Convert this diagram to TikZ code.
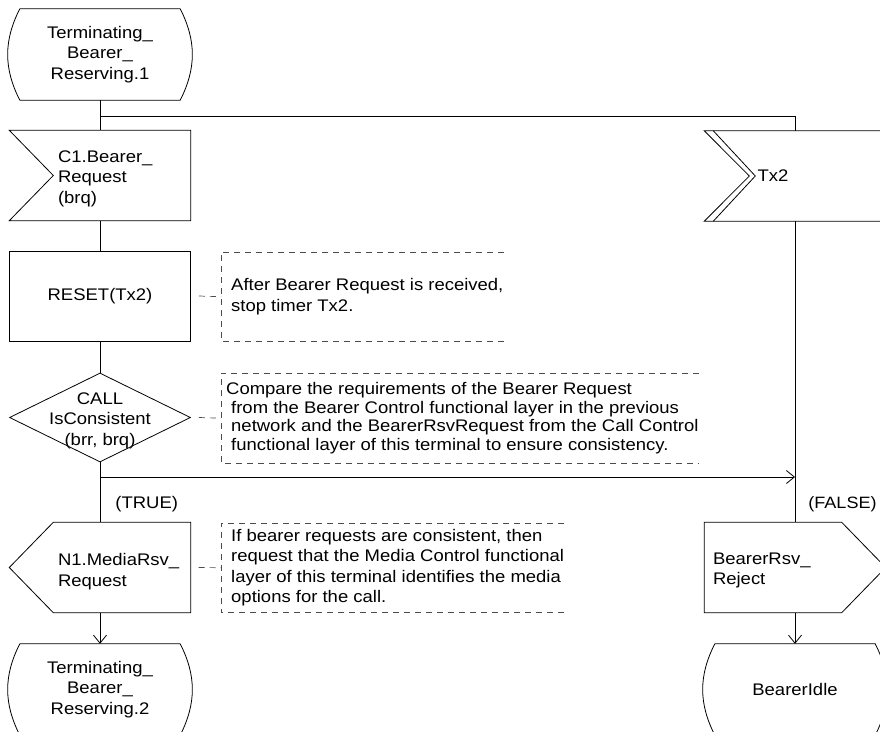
\documentclass[tikz,border=0pt]{standalone}
\usepackage{fontspec}
\setmainfont{Liberation Sans}[FakeStretch=1.1]
\usetikzlibrary{positioning, arrows.meta, shapes.geometric, calc}

\begin{document}
\begin{tikzpicture}[
	x=1pt, y=-1pt,
	every node/.style={font=\fontsize{16.8}{20.5}\selectfont},
	sdlstate/.style={rectangle, minimum width=184pt, minimum height=91pt, inner sep=0pt, align=center},
	sdlbox/.style={rectangle, minimum width=181pt, minimum height=90pt, inner sep=0pt, align=center},
	sdltask/.style={sdlbox, draw, line width=0.8pt},
	sdldecision/.style={diamond, draw, line width=0.8pt, minimum width=181pt, minimum height=89pt, inner sep=0pt},
	sdltext/.style={align=left, inner sep=0pt},
	note/.style={anchor=north west, align=left, inner sep=0pt, minimum height=89pt},
	notebracket/.style={draw=black!70, line width=0.7pt, dash pattern=on 6pt off 5pt},
	flow/.style={line width=0.8pt},
	flowarrow/.style={flow, -{Straight Barb[length=8pt, width=13pt]}},
	branchtext/.style={anchor=west, inner sep=0pt}
	]
	\useasboundingbox (0,0) rectangle (880,731);
	
	% --- LEFT COLUMN: Bearer Request path ---
	\node[sdlstate] (st1) at (100,54.5) {Terminating\_\\Bearer\_\\Reserving.1};
	\draw[flow] ([xshift=12pt]st1.north west) -- ([xshift=-12pt]st1.north east) to[bend left=27] ([xshift=-12pt]st1.south east) -- ([xshift=12pt]st1.south west) to[bend left=27] ([xshift=12pt]st1.north west);
	
	% Input C1.Bearer_Request
	\node[sdlbox, label={[sdltext, name=in1text, anchor=west, xshift=48.5pt, yshift=-3pt]west:{C1.Bearer\_\\Request\\(brq)}}] (in1) at (100,175.5) {};
	\draw[flow] (in1.north west) -- (in1.north east) -- (in1.south east) -- (in1.south west) -- ([xshift=44pt]in1.west) -- cycle;
	
	% Task and decision
	\node[sdltask] (reset) at (100,296) {RESET(Tx2)};
	\node[sdldecision, label={[name=dectext, align=center, yshift=-3pt]center:{CALL\\IsConsistent\\(brr, brq)}}] (dec) at (100,417.5) {};
	
	% Output N1.MediaRsv_Request
	\node[sdlbox, label={[sdltext, name=n1text, anchor=west, xshift=48.5pt, yshift=-4pt]west:{N1.MediaRsv\_\\Request}}] (n1) at (100,567.5) {};
	\draw[flow] (n1.west) -- ([xshift=44pt]n1.north west) -- (n1.north east) -- (n1.south east) -- ([xshift=44pt]n1.south west) -- cycle;
	
	\node[sdlstate] (st2) at (100,689.5) {Terminating\_\\Bearer\_\\Reserving.2};
	\draw[flow] ([xshift=12pt]st2.north west) -- ([xshift=-12pt]st2.north east) to[bend left=27] ([xshift=-12pt]st2.south east) -- ([xshift=12pt]st2.south west) to[bend left=27] ([xshift=12pt]st2.north west);
	
	% --- RIGHT COLUMN: timer expiry path ---
	\node[sdlbox, label={[sdltext, name=tx2text, anchor=west, xshift=53pt]west:{Tx2}}] (tx2) at (795,176) {};
	\draw[flow] (tx2.north west) -- (tx2.north east) -- (tx2.south east) -- (tx2.south west) -- ([xshift=45pt]tx2.west) -- cycle;
	\draw[flow] ([xshift=9pt]tx2.north west) -- ([xshift=51pt]tx2.west) -- ([xshift=9pt]tx2.south west);
	
	% Output BearerRsv_Reject
	\node[sdlbox, label={[sdltext, name=rejtext, anchor=west, xshift=8.5pt, yshift=-3pt]west:{BearerRsv\_\\Reject}}] (rej) at (795,567.5) {};
	\draw[flow] (rej.north west) -- ([xshift=-44pt]rej.north east) -- (rej.east) -- ([xshift=-44pt]rej.south east) -- (rej.south west) -- cycle;
	
	\node[sdlstate] (idle) at (795,689.5) {BearerIdle};
	\draw[flow] ([xshift=12pt]idle.north west) -- ([xshift=-12pt]idle.north east) to[bend left=27] ([xshift=-12pt]idle.south east) -- ([xshift=12pt]idle.south west) to[bend left=27] ([xshift=12pt]idle.north west);
	
	% --- Flow lines ---
	\coordinate (j1) at (100,116);
	\coordinate (j2) at (100,477);
	\coordinate (j3) at (795,477);
	\draw[flow] (st1.south) -- (in1.north);
	\draw[flow] (j1) -| (tx2.north);
	\draw[flow] (in1.south) -- (reset.north);
	\draw[flow] (reset.south) -- (dec.north);
	\draw[flow] (dec.south) -- (n1.north) node[branchtext, pos=0.69, xshift=15pt] (ltrue) {(TRUE)};
	\draw[flowarrow] (j2) -- (j3);
	\draw[flow] (tx2.south) -- (rej.north) node[branchtext, pos=0.94, xshift=13pt, font=\fontsize{16.4}{20}\selectfont] (lfalse) {(FALSE)};
	\draw[flowarrow] (n1.south) -- (st2.north);
	\draw[flowarrow] (rej.south) -- (idle.north);
	
	% --- Comments ---
	\node[note] (nt1) at (231,252) {After Bearer Request is received,\\stop timer Tx2.};
	\draw[notebracket] (nt1.north east) -- ([xshift=-10pt]nt1.north west) -- ([xshift=-10pt]nt1.south west) -- (nt1.south east);
	\draw[notebracket] ([xshift=8pt]reset.east) -- ([xshift=-10pt]nt1.west);
	
	\node[note, minimum height=90pt, font=\fontsize{16.8}{18.5}\selectfont] (nt2) at (226,373) {Compare the requirements of the Bearer Request\\\hspace*{5pt}from the Bearer Control functional layer in the previous\\\hspace*{5pt}network and the BearerRsvRequest from the Call Control\\\hspace*{5pt}functional layer of this terminal to ensure consistency.};
	\draw[notebracket] (nt2.north east) -- ([xshift=-5pt]nt2.north west) -- ([xshift=-5pt]nt2.south west) -- (nt2.south east);
	\draw[notebracket] ([xshift=8pt]dec.east) -- ([xshift=-5pt]nt2.west);
	
	\node[note] (nt3) at (231,523) {If bearer requests are consistent, then\\request that the Media Control functional\\layer of this terminal identifies the media\\options for the call.};
	\draw[notebracket] (nt3.north east) -- ([xshift=-10pt]nt3.north west) -- ([xshift=-10pt]nt3.south west) -- (nt3.south east);
	\draw[notebracket] ([xshift=8pt]n1.east) -- ([xshift=-10pt]nt3.west);
	
\end{tikzpicture}
\end{document}
